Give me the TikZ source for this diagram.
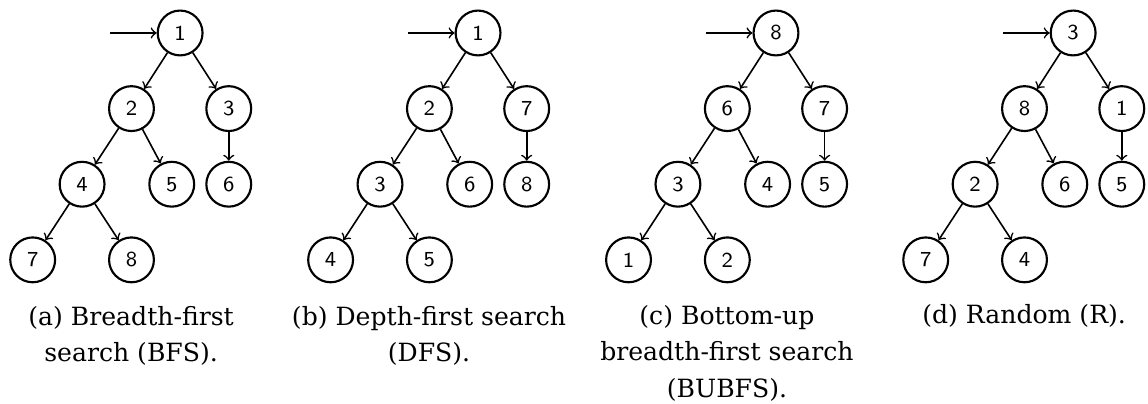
\documentclass[tikz,border=0pt]{standalone}
\usepackage{fontspec}
\newfontfamily\capfont{DejaVu Serif}
\usetikzlibrary{positioning}

\begin{document}
\begin{tikzpicture}[->, semithick, node distance=0.995cm and 0.64cm, on grid,
    vertex/.style={circle, draw, thick, minimum size=0.59cm, inner sep=0pt, font=\sffamily\fontsize{8}{9}\selectfont},
    subcap/.style={align=center, anchor=base, font=\capfont\fontsize{9.4}{13.65}\selectfont}]
    \useasboundingbox (0,0) rectangle (15.105,-5.303);

    % (a) breadth-first
    \node[vertex] (a1) at (2.37,-0.434) {1};
    \node[vertex] (a2) [below left=of a1] {2};
    \node[vertex] (a3) [below right=of a1] {3};
    \node[vertex] (a4) [below left=0.995cm and 0.65cm of a2] {4};
    \node[vertex] (a5) [below right=0.995cm and 0.53cm of a2] {5};
    \node[vertex] (a6) [below=of a3] {6};
    \node[vertex] (a7) [below left=0.995cm and 0.65cm of a4] {7};
    \node[vertex] (a8) [below right=0.995cm and 0.65cm of a4] {8};
    \coordinate[left=0.92cm of a1] (a0);
    \draw (a0) -- (a1);
    \draw (a1) -- (a2);
    \draw (a1) -- (a3);
    \draw (a2) -- (a4);
    \draw (a2) -- (a5);
    \draw (a3) -- (a6);
    \draw (a4) -- (a7);
    \draw (a4) -- (a8);
    \node[subcap] (capa) at (1.725,-4.763) {(a) Breadth-first\\search (BFS).};

    % (b) depth-first
    \node[vertex] (b1) at (6.29,-0.434) {1};
    \node[vertex] (b2) [below left=of b1] {2};
    \node[vertex] (b7) [below right=of b1] {7};
    \node[vertex] (b3) [below left=0.995cm and 0.65cm of b2] {3};
    \node[vertex] (b6) [below right=0.995cm and 0.53cm of b2] {6};
    \node[vertex] (b8) [below=of b7] {8};
    \node[vertex] (b4) [below left=0.995cm and 0.65cm of b3] {4};
    \node[vertex] (b5) [below right=0.995cm and 0.65cm of b3] {5};
    \coordinate[left=0.92cm of b1] (b0);
    \draw (b0) -- (b1);
    \draw (b1) -- (b2);
    \draw (b1) -- (b7);
    \draw (b2) -- (b3);
    \draw (b2) -- (b6);
    \draw (b7) -- (b8);
    \draw (b3) -- (b4);
    \draw (b3) -- (b5);
    \node[subcap] (capb) at (5.645,-4.763) {(b) Depth-first search\\(DFS).};

    % (c) bottom-up breadth-first
    \node[vertex] (c8) at (10.21,-0.434) {8};
    \node[vertex] (c6) [below left=of c8] {6};
    \node[vertex] (c7) [below right=of c8] {7};
    \node[vertex] (c3) [below left=0.995cm and 0.65cm of c6] {3};
    \node[vertex] (c4) [below right=0.995cm and 0.53cm of c6] {4};
    \node[vertex] (c5) [below=of c7] {5};
    \node[vertex] (c1) [below left=0.995cm and 0.65cm of c3] {1};
    \node[vertex] (c2) [below right=0.995cm and 0.65cm of c3] {2};
    \coordinate[left=0.92cm of c8] (c0);
    \draw (c0) -- (c8);
    \draw (c8) -- (c6);
    \draw (c8) -- (c7);
    \draw (c6) -- (c3);
    \draw (c6) -- (c4);
    \draw (c7) -- (c5);
    \draw (c3) -- (c1);
    \draw (c3) -- (c2);
    \node[subcap] (capc) at (9.565,-5.224) {(c) Bottom-up\\breadth-first search\\(BUBFS).};

    % (d) random
    \node[vertex] (d3) at (14.12,-0.434) {3};
    \node[vertex] (d8) [below left=of d3] {8};
    \node[vertex] (d1) [below right=of d3] {1};
    \node[vertex] (d2) [below left=0.995cm and 0.65cm of d8] {2};
    \node[vertex] (d6) [below right=0.995cm and 0.53cm of d8] {6};
    \node[vertex] (d5) [below=of d1] {5};
    \node[vertex] (d7) [below left=0.995cm and 0.65cm of d2] {7};
    \node[vertex] (d4) [below right=0.995cm and 0.65cm of d2] {4};
    \coordinate[left=0.92cm of d3] (d0);
    \draw (d0) -- (d3);
    \draw (d3) -- (d8);
    \draw (d3) -- (d1);
    \draw (d8) -- (d2);
    \draw (d8) -- (d6);
    \draw (d1) -- (d5);
    \draw (d2) -- (d7);
    \draw (d2) -- (d4);
    \node[subcap] (capd) at (13.475,-4.263) {(d) Random (R).};
\end{tikzpicture}
\end{document}
